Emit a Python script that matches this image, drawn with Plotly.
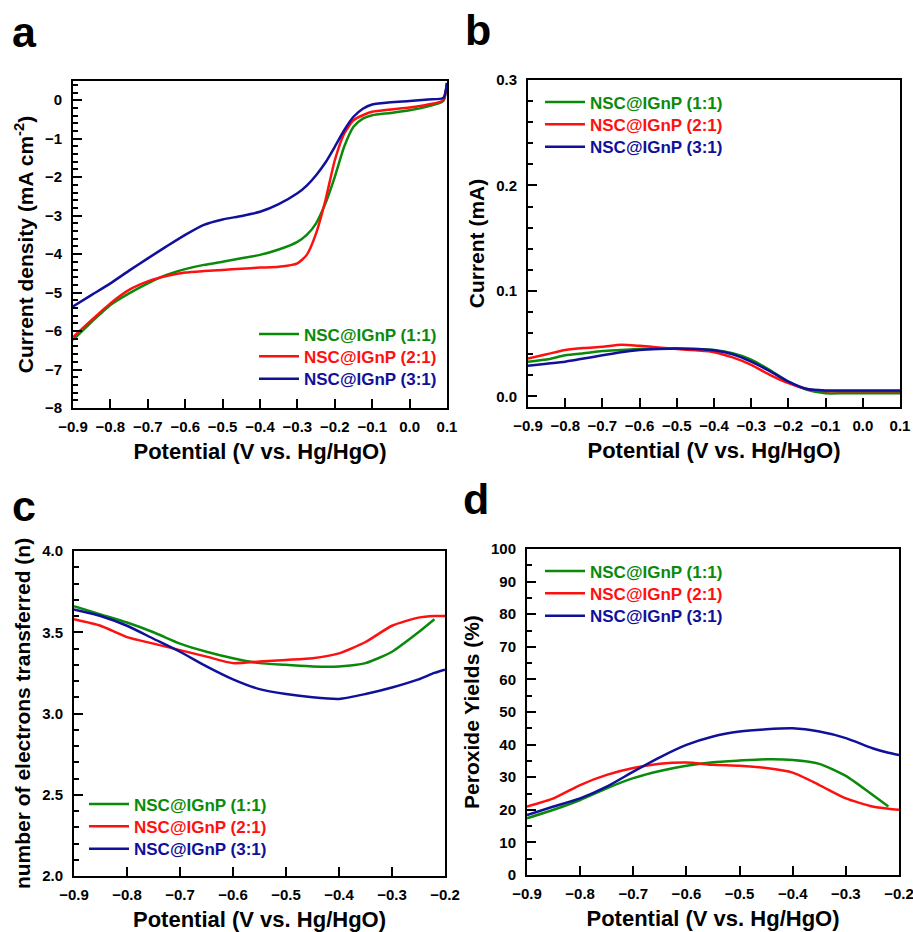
import plotly.graph_objects as go

# sample names and colours
names = ["NSC@IGnP (1:1)", "NSC@IGnP (2:1)", "NSC@IGnP (3:1)"]
colors = ["#0a8a0a", "#ff1010", "#10109a"]

# panel a - LSV current density (mA cm-2)
xa = [-0.9, -0.85, -0.8, -0.75, -0.7, -0.65, -0.6, -0.55, -0.5, -0.45, -0.4, -0.35, -0.3, -0.275,
      -0.25, -0.225, -0.2, -0.175, -0.15, -0.125, -0.1, -0.05, 0.0, 0.05, 0.09, 0.1]
ja_11 = [-6.23, -5.76, -5.32, -5.02, -4.76, -4.54, -4.39, -4.28, -4.20, -4.11, -4.02, -3.88, -3.68, -3.50,
         -3.20, -2.68, -1.99, -1.21, -0.69, -0.48, -0.39, -0.33, -0.26, -0.16, -0.02, 0.45]
ja_21 = [-6.16, -5.71, -5.28, -4.93, -4.71, -4.57, -4.48, -4.44, -4.41, -4.38, -4.35, -4.33, -4.24, -4.02,
         -3.46, -2.60, -1.56, -0.87, -0.52, -0.39, -0.30, -0.24, -0.19, -0.11, 0.0, 0.45]
ja_31 = [-5.36, -5.06, -4.76, -4.43, -4.11, -3.80, -3.50, -3.24, -3.10, -3.01, -2.90, -2.70, -2.42, -2.22,
         -1.95, -1.62, -1.21, -0.78, -0.43, -0.22, -0.11, -0.05, -0.02, 0.02, 0.06, 0.45]

# panel b - ring current (mA)
xb = [-0.9, -0.85, -0.8, -0.75, -0.7, -0.65, -0.6, -0.55, -0.5, -0.45, -0.4, -0.35, -0.3, -0.25,
      -0.2, -0.15, -0.1, -0.05, 0.0, 0.05, 0.1]
ib_11 = [0.033, 0.035, 0.039, 0.041, 0.043, 0.044, 0.045, 0.0455, 0.0455, 0.045, 0.044, 0.041, 0.035, 0.025,
         0.014, 0.0063, 0.003, 0.003, 0.003, 0.003, 0.003]
ib_21 = [0.036, 0.040, 0.044, 0.046, 0.047, 0.049, 0.048, 0.0465, 0.045, 0.0437, 0.042, 0.037, 0.030, 0.0205,
         0.0126, 0.007, 0.005, 0.005, 0.005, 0.005, 0.005]
ib_31 = [0.029, 0.031, 0.033, 0.036, 0.039, 0.042, 0.044, 0.045, 0.0455, 0.045, 0.0437, 0.040, 0.033, 0.024,
         0.014, 0.007, 0.0057, 0.0057, 0.0057, 0.0057, 0.0057]

# panel c - electron transfer number
xc = [-0.9, -0.85, -0.8, -0.75, -0.7, -0.65, -0.6, -0.55, -0.5, -0.45, -0.4, -0.35, -0.3, -0.25, -0.22, -0.2]
nc_11 = [3.66, 3.61, 3.56, 3.50, 3.43, 3.38, 3.34, 3.31, 3.30, 3.29, 3.29, 3.31, 3.38, 3.50, 3.58, None]
nc_21 = [3.58, 3.54, 3.47, 3.43, 3.39, 3.35, 3.31, 3.32, 3.33, 3.34, 3.37, 3.44, 3.54, 3.59, 3.60, 3.60]
nc_31 = [3.64, 3.60, 3.54, 3.46, 3.38, 3.29, 3.21, 3.15, 3.12, 3.10, 3.09, 3.12, 3.16, 3.21, 3.25, 3.27]

# panel d - peroxide yield (%)
xd = [-0.9, -0.85, -0.8, -0.75, -0.7, -0.65, -0.6, -0.55, -0.5, -0.45, -0.4, -0.35, -0.3, -0.25, -0.22, -0.2]
pd_11 = [17.4, 20.0, 23.0, 26.6, 29.7, 31.9, 33.5, 34.6, 35.1, 35.5, 35.3, 34.1, 30.4, 24.6, 21.0, None]
pd_21 = [21.0, 23.5, 27.6, 30.7, 32.8, 34.1, 34.5, 33.8, 33.5, 32.8, 31.4, 27.6, 23.5, 21.0, 20.3, 20.0]
pd_31 = [18.4, 21.0, 23.5, 27.1, 31.7, 36.1, 39.9, 42.5, 44.0, 44.7, 45.0, 44.0, 42.0, 38.9, 37.5, 36.8]

FONT = "Arial, Liberation Sans, sans-serif"
W, H = 913, 932

# axes, legend start (left px), first legend row (px) per panel
panels = [
    ("x", "y", xa, [ja_11, ja_21, ja_31], 254, 332),
    ("x2", "y2", xb, [ib_11, ib_21, ib_31], 540, 100),
    ("x3", "y3", xc, [nc_11, nc_21, nc_31], 84, 802),
    ("x4", "y4", xd, [pd_11, pd_21, pd_31], 540, 569),
]
ROW = 22.3


def fx(p):
    return p / W


def fy(p):
    return 1 - p / H


leg_font = dict(family=FONT, size=17, color="black", weight="bold")

fig = go.Figure()
legends = {}
k = 0
for xr, yr, xs, series, lx, ly in panels:
    for i, (name, col, ys) in enumerate(zip(names, colors, series)):
        k += 1
        lg = "legend" if k == 1 else "legend%d" % k
        legends[lg] = dict(x=fx(lx), y=fy(ly + i * ROW - 15.5), xanchor="left", yanchor="top",
                           xref="paper", yref="paper", bgcolor="rgba(0,0,0,0)",
                           font=leg_font, itemwidth=40)
        fig.add_trace(go.Scatter(
            x=xs, y=ys, mode="lines", xaxis=xr, yaxis=yr, legend=lg,
            line=dict(color=col, width=2.5, shape="spline", smoothing=0.6),
            name="<span style='color:%s'>%s</span>" % (col, name),
        ))


def xax(a, b, rng, anchor):
    return dict(domain=[fx(a), fx(b)], range=rng, dtick=0.1, anchor=anchor, tickformat=".1f",
                showline=True, linecolor="black", linewidth=2, mirror=True,
                ticks="inside", ticklen=9, tickwidth=2, tickcolor="black",
                showgrid=False, zeroline=False, ticklabelstandoff=4, automargin=False,
                ticklabeloverflow="allow",
                tickfont=dict(family=FONT, size=15, color="black", weight="bold"),
                title=dict(text="Potential (V vs. Hg/HgO)", standoff=10,
                           font=dict(family=FONT, size=22, color="black", weight="bold")))


def yax(top, bottom, rng, dtick, mdtick, fmt, anchor, title):
    return dict(domain=[fy(bottom), fy(top)], range=rng, dtick=dtick, anchor=anchor, tickformat=fmt,
                showline=True, linecolor="black", linewidth=2, mirror=True,
                ticks="inside", ticklen=9, tickwidth=2, tickcolor="black",
                minor=dict(dtick=mdtick, ticks="inside", ticklen=5, tickwidth=1.5, tickcolor="black"),
                showgrid=False, zeroline=False, ticklabelstandoff=6, automargin=False,
                ticklabeloverflow="allow",
                tickfont=dict(family=FONT, size=15, color="black", weight="bold"),
                title=dict(text=title, standoff=6,
                           font=dict(family=FONT, size=21, color="black", weight="bold")))


fig.update_layout(
    width=W, height=H, margin=dict(l=0, r=0, t=0, b=0),
    plot_bgcolor="white", paper_bgcolor="white", showlegend=True,
    xaxis=xax(73, 447, [-0.9, 0.1], "y"),
    yaxis=yax(81, 408, [-8, 0.5], 1, 0.2, "d", "x", "Current density (mA cm<sup>-2</sup>)"),
    xaxis2=xax(528, 900, [-0.9, 0.1], "y2"),
    yaxis2=yax(80, 407, [-0.01, 0.3], 0.1, 0.02, ".1f", "x2", "Current (mA)"),
    xaxis3=xax(74, 445, [-0.9, -0.2], "y3"),
    yaxis3=yax(551, 876, [2.0, 4.0], 0.5, 0.1, ".1f", "x3", "number of electrons transferred (n)"),
    xaxis4=xax(527, 899, [-0.9, -0.2], "y4"),
    yaxis4=yax(549, 875, [0, 100], 10, 5, "d", "x4", "Peroxide Yields (%)"),
    **legends,
)

for txt, x, y in [("a", 10, 6), ("b", 463, 4), ("c", 10, 480), ("d", 461, 473)]:
    fig.add_annotation(text=txt, x=fx(x), y=fy(y), xref="paper", yref="paper",
                       xanchor="left", yanchor="top", showarrow=False,
                       font=dict(family=FONT, size=43, color="black", weight="bold"))

# the page body has a default 8px margin; drop it so the figure fills the window
fig.write_html("out.html", config={"displayModeBar": False},
               post_script="document.body.style.margin='0px';")
